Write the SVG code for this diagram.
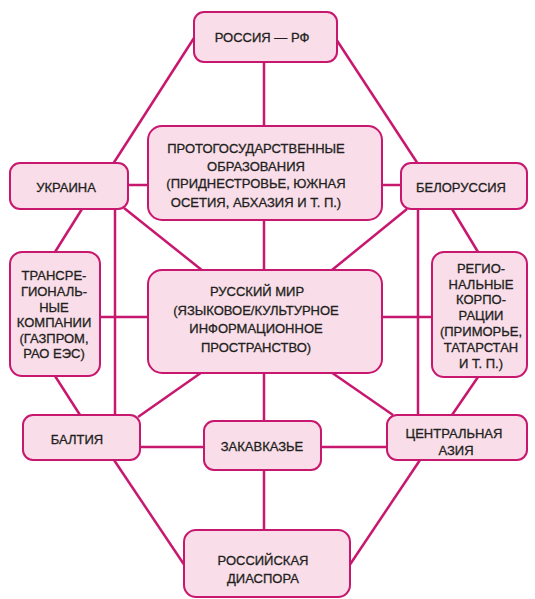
<svg xmlns="http://www.w3.org/2000/svg" width="535" height="599" viewBox="0 0 535 599">
<style>
.box{fill:#f9dde9;stroke:#c8176e;stroke-width:2}
.ln{stroke:#c8176e;stroke-width:2.5;fill:none;stroke-linecap:butt}
text{font-family:"Liberation Sans",Arial,sans-serif;font-size:13px;fill:#231f20;stroke:#231f20;stroke-width:0.3;text-anchor:middle}
</style>
<rect width="535" height="599" fill="#ffffff"/>
<g id="connectors">
<line class="ln" x1="194" y1="38" x2="113" y2="164"/>
<line class="ln" x1="336" y1="39" x2="418" y2="164"/>
<line class="ln" x1="264" y1="62" x2="264" y2="126"/>
<line class="ln" x1="128" y1="185" x2="148" y2="185"/>
<line class="ln" x1="382" y1="185" x2="401" y2="185"/>
<line class="ln" x1="82" y1="209" x2="55" y2="252"/>
<line class="ln" x1="452" y1="209" x2="478" y2="252"/>
<line class="ln" x1="115" y1="209" x2="115" y2="415"/>
<line class="ln" x1="418" y1="209" x2="418" y2="415"/>
<line class="ln" x1="124" y1="208" x2="203" y2="271"/>
<line class="ln" x1="407" y1="209" x2="332" y2="270"/>
<line class="ln" x1="264" y1="220" x2="264" y2="270"/>
<line class="ln" x1="100" y1="317" x2="148" y2="317"/>
<line class="ln" x1="382" y1="317" x2="432" y2="317"/>
<line class="ln" x1="55" y1="376" x2="80" y2="415"/>
<line class="ln" x1="478" y1="377" x2="452" y2="415"/>
<line class="ln" x1="205" y1="370" x2="138" y2="417"/>
<line class="ln" x1="328" y1="370" x2="393" y2="415"/>
<line class="ln" x1="264" y1="373" x2="264" y2="421"/>
<line class="ln" x1="140" y1="447" x2="204" y2="447"/>
<line class="ln" x1="321" y1="447" x2="387" y2="447"/>
<line class="ln" x1="264" y1="470" x2="264" y2="530"/>
<line class="ln" x1="114" y1="460" x2="185" y2="566"/>
<line class="ln" x1="420" y1="460" x2="349" y2="566"/>
</g>
<g id="russia">
<rect class="box" x="194" y="12" width="143" height="50" rx="10"/>
<text x="262" y="42">РОССИЯ — РФ</text>
</g>
<g id="proto">
<rect class="box" x="148" y="126" width="234" height="94" rx="14"/>
<text x="256" y="153">ПРОТОГОСУДАРСТВЕННЫЕ</text>
<text x="256" y="170.5">ОБРАЗОВАНИЯ</text>
<text x="256" y="188">(ПРИДНЕСТРОВЬЕ, ЮЖНАЯ</text>
<text x="256" y="206.5">ОСЕТИЯ, АБХАЗИЯ  И Т. П.)</text>
</g>
<g id="ukraine">
<rect class="box" x="10" y="163" width="118" height="46" rx="10"/>
<text x="66" y="192">УКРАИНА</text>
</g>
<g id="belorussia">
<rect class="box" x="401" y="163" width="126" height="46" rx="10"/>
<text x="461" y="192">БЕЛОРУССИЯ</text>
</g>
<g id="transregional">
<rect class="box" x="10" y="252" width="90" height="124" rx="12"/>
<text x="54" y="280">ТРАНСРЕ-</text>
<text x="54" y="296">ГИОНАЛЬ-</text>
<text x="54" y="311.5">НЫЕ</text>
<text x="54" y="327">КОМПАНИИ</text>
<text x="54" y="342.5">(ГАЗПРОМ,</text>
<text x="54" y="358">РАО ЕЭС)</text>
</g>
<g id="russian-world">
<rect class="box" x="148" y="270" width="234" height="103" rx="14"/>
<text x="257" y="296">РУССКИЙ МИР</text>
<text x="256" y="315">(ЯЗЫКОВОЕ/КУЛЬТУРНОЕ</text>
<text x="256" y="333">ИНФОРМАЦИОННОЕ</text>
<text x="256" y="352">ПРОСТРАНСТВО)</text>
</g>
<g id="regional">
<rect class="box" x="432" y="252" width="95" height="125" rx="12"/>
<text x="481" y="272.5">РЕГИО-</text>
<text x="481" y="288.5">НАЛЬНЫЕ</text>
<text x="481" y="304">КОРПО-</text>
<text x="481" y="320">РАЦИИ</text>
<text x="481" y="336">(ПРИМОРЬЕ,</text>
<text x="481" y="352">ТАТАРСТАН</text>
<text x="481" y="367.5">И Т. П.)</text>
</g>
<g id="baltia">
<rect class="box" x="23" y="415" width="117" height="45" rx="10"/>
<text x="77" y="444">БАЛТИЯ</text>
</g>
<g id="zakavkazye">
<rect class="box" x="204" y="421" width="117" height="49" rx="10"/>
<text x="262" y="451">ЗАКАВКАЗЬЕ</text>
</g>
<g id="central-asia">
<rect class="box" x="387" y="415" width="140" height="45" rx="10"/>
<text x="454" y="437.5">ЦЕНТРАЛЬНАЯ</text>
<text x="456" y="455">АЗИЯ</text>
</g>
<g id="diaspora">
<rect class="box" x="184" y="530" width="166" height="67" rx="12"/>
<text x="263" y="564.5">РОССИЙСКАЯ</text>
<text x="263" y="582.5">ДИАСПОРА</text>
</g>
</svg>
